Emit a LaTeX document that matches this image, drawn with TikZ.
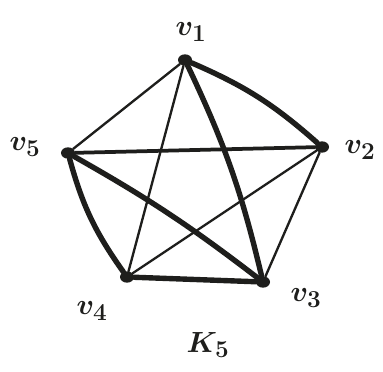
\documentclass[tikz,border=0pt]{standalone}
\usepackage{tikz}
\usepackage{amsmath,amssymb}
\usetikzlibrary{calc,positioning,shapes.geometric}
\definecolor{inkBlack}{RGB}{30,30,28}
\tikzset{
  vertexdot/.style={ellipse,fill=inkBlack,minimum width=0.42cm,minimum height=0.34cm,inner sep=0pt},
  vlabel/.style={inner sep=0pt,font=\fontsize{30}{32}\selectfont\boldmath,text=inkBlack},
  thinedge/.style={draw=inkBlack,line width=2.0pt,line cap=round},
  midedge/.style={draw=inkBlack,line width=3.2pt,line cap=round},
  thickedge/.style={draw=inkBlack,line width=4.6pt,line cap=round}
}

\begin{document}
\begin{tikzpicture}[x=0.03cm,y=-0.03cm]
\useasboundingbox (0,0) rectangle (383,372);
% vertices
\node[vertexdot] (v1) at (185,60) {};
\node[vertexdot] (v2) at (322,147) {};
\node[vertexdot] (v3) at (263,282) {};
\node[vertexdot] (v4) at (127,277) {};
\node[vertexdot] (v5) at (68,153) {};
% labels
\node[vlabel] (l1) at (191,32) {$v_1$};
\node[vlabel] (l2) at (360,150) {$v_2$};
\node[vlabel] (l3) at (306,298) {$v_3$};
\node[vlabel] (l4) at (92,311) {$v_4$};
\node[vlabel] (l5) at (25,147) {$v_5$};
\node[vlabel] (title) at (208,345) {$K_5$};
% edges
\draw[thickedge] (v1) to[bend left=9] (v2);
\draw[thickedge] (v1) to[bend left=6] (v3);
\draw[thinedge] (v1) -- (v5);
\draw[thinedge] (v1) -- (v4);
\draw[midedge] (v5) -- (v2);
\draw[thinedge] (v4) -- (v2);
\draw[thinedge] (v2) -- (v3);
\draw[thickedge] (v5) to[bend left=4] (v3);
\draw[thickedge] (v5) to[bend right=10] (v4);
\draw[thickedge] (v4) -- (v3);
\end{tikzpicture}
\end{document}
